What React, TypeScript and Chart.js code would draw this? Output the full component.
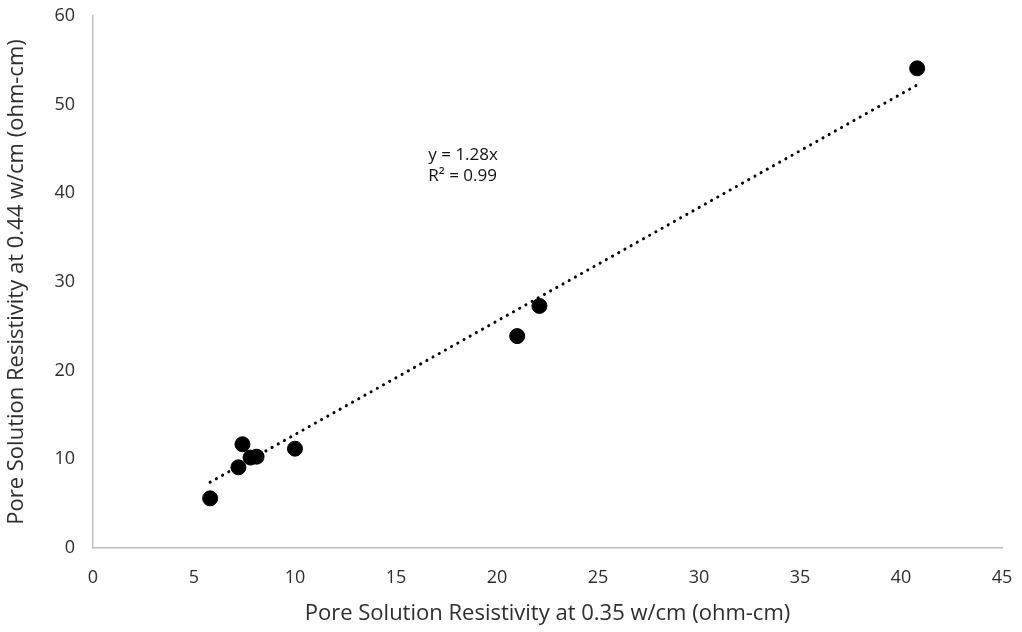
import React, { useEffect, useRef } from "react";
import { Chart, registerables } from "chart.js";

Chart.register(...registerables);

const xValues = [5.8, 7.2, 7.4, 7.8, 8.1, 10.0, 21.0, 22.1, 40.8];
const yValues = [5.6, 9.1, 11.7, 10.2, 10.3, 11.2, 23.9, 27.3, 54.1];
const slope = 1.28;
const equationText = "y = 1.28x";
const r2Text = "R² = 0.99";
const xTitle = "Pore Solution Resistivity at 0.35 w/cm (ohm-cm)";
const yTitle = "Pore Solution Resistivity at 0.44 w/cm (ohm-cm)";

const FONT = "'Open Sans', sans-serif";
const TEXT = "#2e2e2e";

export default function App() {
  const ref = useRef<HTMLCanvasElement | null>(null);
  useEffect(() => {
    if (!ref.current) return;
    const xMin = Math.min(...xValues);
    const xMax = Math.max(...xValues);
    const trend = [
      { x: xMin, y: slope * xMin },
      { x: xMax, y: slope * xMax },
    ];
    const annot = {
      id: "annot",
      afterDatasetsDraw(chart: any) {
        const { ctx, scales } = chart;
        ctx.save();
        ctx.fillStyle = "#111";
        ctx.font = `17px ${FONT}`;
        ctx.textAlign = "left";
        ctx.textBaseline = "middle";
        const x = scales.x.getPixelForValue(16.6);
        ctx.fillText(equationText, x, scales.y.getPixelForValue(44.3));
        ctx.fillText(r2Text, x, scales.y.getPixelForValue(41.9));
        ctx.restore();
      },
    };
    const chart = new Chart(ref.current, {
      type: "scatter",
      data: {
        datasets: [
          {
            label: "trend",
            data: trend,
            showLine: true,
            borderColor: "#000",
            borderWidth: 3,
            borderDash: [0.1, 7],
            borderCapStyle: "round",
            pointRadius: 0,
            fill: false,
          } as any,
          {
            label: "data",
            data: xValues.map((x, i) => ({ x, y: yValues[i] })),
            backgroundColor: "#000",
            borderColor: "#000",
            pointRadius: 7.5,
            pointHoverRadius: 7.5,
          },
        ],
      },
      options: {
        animation: false,
        responsive: true,
        maintainAspectRatio: false,
        layout: { autoPadding: false, padding: { top: 16, right: 20, bottom: 5, left: 4 } },
        plugins: { legend: { display: false }, tooltip: { enabled: false } },
        scales: {
          x: {
            type: "linear",
            min: 0,
            max: 45,
            ticks: { stepSize: 5, color: TEXT, font: { family: FONT, size: 18 }, padding: 4 },
            grid: { display: true, drawOnChartArea: false, drawTicks: true, tickLength: 15, tickColor: "rgba(0,0,0,0)" },
            border: { color: "#bfbfbf", width: 1.5 },
            title: { display: true, text: xTitle, color: TEXT, font: { family: FONT, size: 22 }, padding: { top: 8, bottom: 0 } },
          },
          y: {
            type: "linear",
            min: 0,
            max: 60,
            ticks: { stepSize: 10, color: TEXT, font: { family: FONT, size: 18 }, padding: 4 },
            grid: { display: true, drawOnChartArea: false, drawTicks: true, tickLength: 14, tickColor: "rgba(0,0,0,0)" },
            border: { color: "#bfbfbf", width: 1.5 },
            title: { display: true, text: yTitle, color: TEXT, font: { family: FONT, size: 22 }, padding: { top: 0, bottom: 20 } },
          },
        },
      },
      plugins: [annot],
    });
    return () => chart.destroy();
  }, []);
  return (
    <div style={{ position: "absolute", left: 0, top: 0, width: 1022, height: 632, background: "#fff" }}>
      <canvas ref={ref} />
    </div>
  );
}
